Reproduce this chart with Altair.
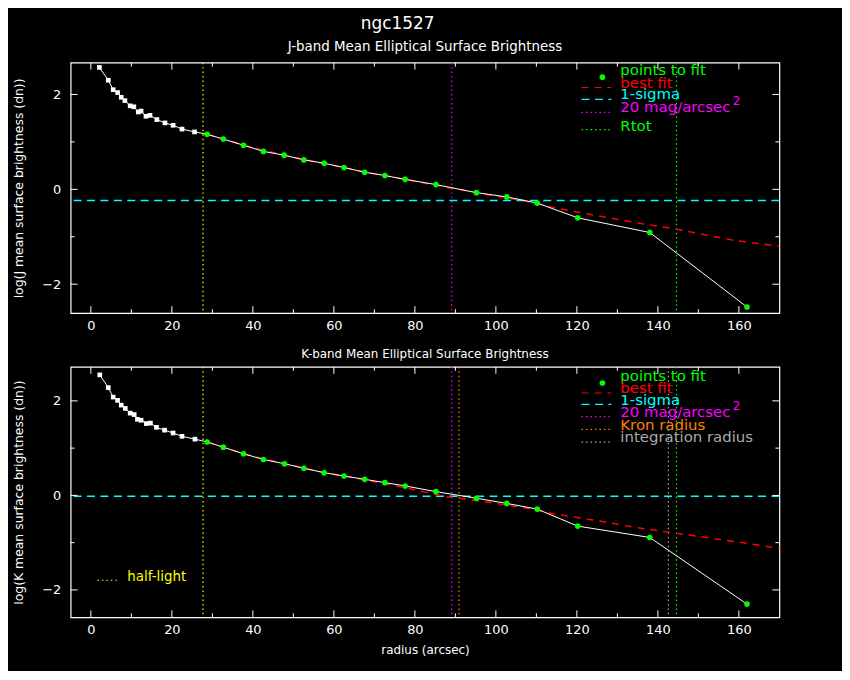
import altair as alt
import pandas as pd

# J band: radius (arcsec) and log mean surface brightness (dn)
j_inner_r = [2.1, 4.3, 5.5, 6.6, 7.5, 8.4, 9.7, 10.6, 11.7, 12.4, 13.6, 14.6, 16.3, 18.3, 20.3, 22.5, 25.6]
j_inner_v = [2.57, 2.30, 2.10, 2.04, 1.94, 1.87, 1.76, 1.74, 1.63, 1.65, 1.54, 1.56, 1.47, 1.40, 1.35, 1.27, 1.21]
j_fit_r = [28.7, 32.7, 37.7, 42.6, 47.7, 52.6, 57.6, 62.5, 67.6, 72.6, 77.6, 85.2, 95.2, 102.7, 110.2, 120.2, 138.0, 162.0]
j_fit_v = [1.16, 1.06, 0.93, 0.80, 0.72, 0.62, 0.55, 0.46, 0.36, 0.29, 0.21, 0.10, -0.07, -0.16, -0.29, -0.60, -0.91, -2.48]
j_best_r = [28.7, 37.7, 47.7, 57.6, 67.6, 77.6, 88.0, 97.8, 107.6, 114.2, 120.0, 133.8, 144.6, 158.4, 170.0]
j_best_v = [1.16, 0.93, 0.72, 0.54, 0.37, 0.21, 0.04, -0.11, -0.25, -0.38, -0.48, -0.69, -0.84, -1.07, -1.20]
j_sigma = -0.237
j_vline_r = [27.7, 89.1, 144.6]
j_vline_c = ["#ffff00", "#ff00ff", "#00ff00"]

# K band
k_inner_r = [2.2, 4.3, 5.5, 6.6, 7.5, 8.5, 9.7, 10.7, 11.5, 12.4, 13.7, 14.7, 16.2, 18.2, 20.3, 22.5, 25.7]
k_inner_v = [2.55, 2.28, 2.08, 2.01, 1.91, 1.84, 1.74, 1.71, 1.61, 1.59, 1.52, 1.53, 1.44, 1.38, 1.32, 1.25, 1.19]
k_fit_r = [28.7, 32.7, 37.7, 42.6, 47.8, 52.6, 57.6, 62.5, 67.6, 72.6, 77.6, 85.2, 95.2, 102.7, 110.2, 120.2, 138.0, 162.0]
k_fit_v = [1.13, 1.02, 0.88, 0.76, 0.67, 0.575, 0.48, 0.41, 0.34, 0.27, 0.20, 0.08, -0.06, -0.17, -0.29, -0.65, -0.89, -2.30]
k_best_r = [28.7, 37.7, 47.7, 57.6, 67.6, 78.2, 88.0, 97.8, 107.6, 114.2, 124.0, 133.8, 143.6, 153.5, 163.3, 170.0]
k_best_v = [1.13, 0.88, 0.67, 0.48, 0.33, 0.15, -0.03, -0.14, -0.27, -0.39, -0.52, -0.67, -0.79, -0.91, -1.03, -1.12]
k_sigma = -0.02
k_vline_r = [27.7, 89.1, 90.9, 142.6, 144.6]
k_vline_c = ["#ffff00", "#ff00ff", "#ff8000", "#aaaaaa", "#00ff00"]

x_major = [0, 20, 40, 60, 80, 100, 120, 140, 160]
x_minor = [10, 30, 50, 70, 90, 110, 130, 150]
y_major = [-2, 0, 2]
y_minor = [-1, 1]

W, H = 713, 252
FONT = "DejaVu Sans"
DOT = [1.5, 3]


def xenc(field, title=None):
    return alt.X(field, type="quantitative",
                 scale=alt.Scale(domain=[-5, 170], nice=False, zero=False),
                 axis=alt.Axis(values=x_major, title=title, labelPadding=6,
                               titlePadding=8, titleFontSize=12))


def yenc(field, ydom, title):
    return alt.Y(field, type="quantitative",
                 scale=alt.Scale(domain=ydom, nice=False, zero=False),
                 axis=alt.Axis(values=y_major, title=title, labelPadding=10,
                               titlePadding=16, titleFontSize=12.5))


def one():
    return alt.Chart(pd.DataFrame({"k": [0]}))


def legend_line(y, color, dash, x0=514, x1=544):
    return one().mark_rule(color=color, strokeDash=dash, strokeWidth=1.2).encode(
        x=alt.value(x0), x2=alt.value(x1), y=alt.value(y))


def legend_text(label, y, color, x=553, size=15):
    return one().mark_text(text=label, align="left", baseline="alphabetic",
                           color=color, font=FONT, fontSize=size).encode(
        x=alt.value(x), y=alt.value(y))


def panel(inner_r, inner_v, fit_r, fit_v, best_r, best_v, sigma, vr, vc,
          ydom, ytitle, xtitle, title, title_size, title_offset, legend):
    x = lambda: xenc("r", xtitle)
    y = lambda: yenc("v", ydom, ytitle)
    prof = pd.DataFrame({"r": inner_r + fit_r, "v": inner_v + fit_v})

    vlines = alt.Chart(pd.DataFrame({"r": vr, "c": vc})).mark_rule(
        strokeDash=DOT, strokeWidth=1.2).encode(x=x(), color=alt.Color("c:N", scale=None))
    sig = alt.Chart(pd.DataFrame({"v": [sigma]})).mark_rule(
        color="#00ffff", strokeDash=[8, 5.5], strokeWidth=1.5).encode(y=y())
    best = alt.Chart(pd.DataFrame({"r": best_r, "v": best_v})).mark_line(
        color="#ff0000", strokeDash=[7, 6], strokeWidth=1.5).encode(x=x(), y=y())
    line = alt.Chart(prof).mark_line(color="white", strokeWidth=1).encode(x=x(), y=y())
    pts_in = alt.Chart(pd.DataFrame({"r": inner_r, "v": inner_v})).mark_square(
        color="white", opacity=1, size=22).encode(x=x(), y=y())
    pts_fit = alt.Chart(pd.DataFrame({"r": fit_r, "v": fit_v})).mark_circle(
        color="#00ff00", opacity=1, size=32).encode(x=x(), y=y())

    def ticks(vals, axis, n):
        d = alt.Chart(pd.DataFrame({"t": vals})).mark_rule(color="white", strokeWidth=1)
        if axis == "x":
            f = alt.X("t:Q", scale=alt.Scale(domain=[-5, 170], nice=False, zero=False))
            return [d.encode(x=f, y=alt.value(H), y2=alt.value(H - n)),
                    d.encode(x=f, y=alt.value(0), y2=alt.value(n))]
        f = alt.Y("t:Q", scale=alt.Scale(domain=ydom, nice=False, zero=False))
        return [d.encode(y=f, x=alt.value(0), x2=alt.value(n)),
                d.encode(y=f, x=alt.value(W), x2=alt.value(W - n))]

    tick_layers = (ticks(x_major, "x", 7) + ticks(x_minor, "x", 4)
                   + ticks(y_major, "y", 7) + ticks(y_minor, "y", 4))

    layers = [vlines, sig, best, line, pts_in, pts_fit] + tick_layers + legend
    return alt.layer(*layers).properties(
        width=W, height=H,
        title=alt.TitleParams(title, fontSize=title_size, font=FONT, color="white",
                              fontWeight="normal", offset=title_offset))


leg_top = [
    one().mark_circle(color="#00ff00", size=32, opacity=1).encode(x=alt.value(535), y=alt.value(14.6)),
    legend_text("points to fit", 12.3, "#00ff00"),
    legend_line(25, "#ff0000", [7, 6]),
    legend_text("best fit", 25, "#ff0000"),
    legend_line(37, "#00ffff", [8, 5.5]),
    legend_text("1-sigma", 36.6, "#00ffff"),
    legend_line(50, "#ff00ff", DOT),
    legend_text("20 mag/arcsec", 50, "#ff00ff"),
    legend_text("2", 42.3, "#ff00ff", x=666, size=12),
    legend_line(67.3, "#00ff00", DOT),
    legend_text("Rtot", 68.3, "#00ff00"),
]

leg_bot = [
    one().mark_circle(color="#00ff00", size=32, opacity=1).encode(x=alt.value(535), y=alt.value(16.3)),
    legend_text("points to fit", 14.7, "#00ff00"),
    legend_line(26.3, "#ff0000", [7, 6]),
    legend_text("best fit", 26.7, "#ff0000"),
    legend_line(37.7, "#00ffff", [8, 5.5]),
    legend_text("1-sigma", 38, "#00ffff"),
    legend_line(50, "#ff00ff", DOT),
    legend_text("20 mag/arcsec", 50, "#ff00ff"),
    legend_text("2", 43, "#ff00ff", x=666, size=12),
    legend_line(63, "#ff8000", DOT),
    legend_text("Kron radius", 63.3, "#ff8000"),
    legend_line(75.7, "#aaaaaa", DOT),
    legend_text("integration radius", 75.7, "#aaaaaa"),
    legend_line(214.7, "#ffff00", DOT, x0=27, x1=48),
    legend_text("half-light", 215, "#ffff00", x=57, size=13.5),
]

top = panel(j_inner_r, j_inner_v, j_fit_r, j_fit_v, j_best_r, j_best_v, j_sigma,
            j_vline_r, j_vline_c, [-2.61, 2.67], "log(J mean surface brightness (dn))",
            None, "J-band Mean Elliptical Surface Brightness", 13.5, 9, leg_top)
bottom = panel(k_inner_r, k_inner_v, k_fit_r, k_fit_v, k_best_r, k_best_v, k_sigma,
               k_vline_r, k_vline_c, [-2.58, 2.72], "log(K mean surface brightness (dn))",
               "radius (arcsec)", "K-band Mean Elliptical Surface Brightness", 12, 5, leg_bot)

chart = alt.vconcat(top, bottom, spacing=14).properties(
    title=alt.TitleParams("ngc1527", fontSize=17, font=FONT, color="white",
                          fontWeight="normal", anchor="middle", offset=6),
    background="black",
    padding={"left": 4, "top": 5, "right": 59, "bottom": 13},
).configure_view(
    stroke="white", strokeWidth=1.2
).configure_axis(
    grid=False, domain=False, ticks=False, tickSize=0,
    labelColor="white", titleColor="white", labelFont=FONT, titleFont=FONT,
    labelFontSize=13, titleFontWeight="normal",
)

chart.save("out.html", embed_options={"renderer": "svg", "actions": False})
